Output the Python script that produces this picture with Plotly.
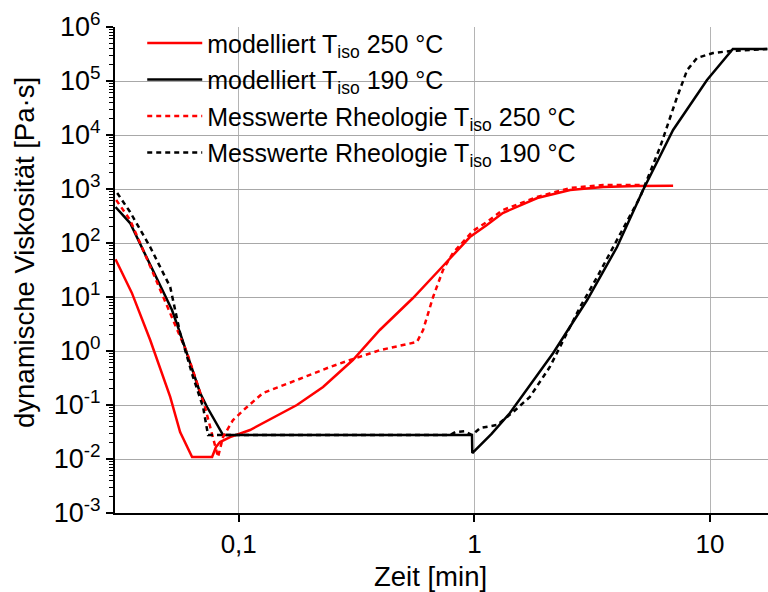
import plotly.graph_objects as go

# ---- data (time in min, dynamic viscosity in Pa·s) ----
t_mod_250 = [0.030, 0.0352, 0.0421, 0.0512, 0.0564, 0.0634, 0.0771, 0.0801, 0.0833, 0.0919,
             0.1117, 0.1268, 0.1766, 0.228, 0.305, 0.397, 0.549, 0.736, 0.957, 1.13, 1.32,
             1.85, 2.55, 3.52, 4.90, 6.97]
eta_mod_250 = [50.0, 11.9, 1.6, 0.141, 0.0316, 0.0109, 0.0109, 0.0167, 0.0206, 0.0255,
               0.0344, 0.0464, 0.100, 0.215, 0.681, 2.45, 9.58, 37.5, 129, 215, 359,
               681, 957, 1089, 1137, 1150]

t_mod_190 = [0.030, 0.0346, 0.0521, 0.0564, 0.0686, 0.0734, 0.0858, 0.977, 0.980, 1.18, 1.415,
             2.16, 3.01, 4.03, 5.20, 6.97, 9.71, 12.5, 17.5]
eta_mod_190 = [464, 234, 5.74, 2.15, 0.167, 0.0918, 0.0278, 0.0278, 0.0129, 0.029, 0.0711,
               0.918, 8.8, 84.3, 957, 12400, 104500, 392000, 392000]

t_meas_250 = [0.0302, 0.0346, 0.0433, 0.0526, 0.0604, 0.0719, 0.0771, 0.0817, 0.0858, 0.0946,
              0.1084, 0.1268, 0.1766, 0.244, 0.297, 0.398, 0.571, 0.606, 0.668, 0.736, 0.811,
              0.895, 0.986, 1.13, 1.32, 1.84, 2.55, 3.51, 5.20]
eta_meas_250 = [625, 267, 27.8, 3.75, 0.918, 0.0918, 0.0303, 0.0109, 0.0255, 0.0528,
                0.0918, 0.167, 0.290, 0.506, 0.681, 1.04, 1.47, 2.45, 10.0, 31.6, 65.3,
                104, 167, 245, 408, 711, 1045, 1186, 1186]

t_meas_190 = [0.0305, 0.0346, 0.0421, 0.0512, 0.0564, 0.0640, 0.0706, 0.0741, 0.0858, 0.789,
              0.830, 0.912, 0.977, 1.06, 1.25, 1.46, 1.72, 2.09, 2.81, 3.32, 4.03, 5.05,
              6.14, 7.25, 8.00, 8.81, 10.3, 12.2, 17.5]
eta_meas_190 = [843, 375, 84.3, 15.3, 2.15, 0.330, 0.0918, 0.0278, 0.0278, 0.0278,
                0.0316, 0.0326, 0.0278, 0.0375, 0.0427, 0.0742, 0.141, 0.506, 6.53, 23.5, 114, 711,
                5995, 50600, 160000, 267000, 330000, 359000, 392000]

series_names = [
    "modelliert T<sub>iso</sub> 250 °C",
    "modelliert T<sub>iso</sub> 190 °C",
    "Messwerte Rheologie T<sub>iso</sub> 250 °C",
    "Messwerte Rheologie T<sub>iso</sub> 190 °C",
]

y_tick_vals = [1e-3, 1e-2, 1e-1, 1e0, 1e1, 1e2, 1e3, 1e4, 1e5, 1e6]
y_tick_text = ["10<sup>-3</sup>", "10<sup>-2</sup>", "10<sup>-1</sup>", "10<sup>0</sup>",
               "10<sup>1</sup>", "10<sup>2</sup>", "10<sup>3</sup>", "10<sup>4</sup>",
               "10<sup>5</sup>", "10<sup>6</sup>"]
x_tick_vals = [0.1, 1, 10]
x_tick_text = ["0,1", "1", "10"]

x_title = "Zeit [min]"
y_title = "dynamische Viskosität [Pa·s]"

FONT = "Arial, Liberation Sans, sans-serif"
RED = "#ff0000"
BLACK = "#000000"
DASH = "5px,4px"

fig = go.Figure()
fig.add_trace(go.Scatter(x=t_mod_250, y=eta_mod_250, mode="lines", name=series_names[0],
                         legendgroup="a", line=dict(color=RED, width=2.5)))
fig.add_trace(go.Scatter(x=t_mod_190, y=eta_mod_190, mode="lines", name=series_names[1],
                         legendgroup="b", line=dict(color=BLACK, width=2.5)))
fig.add_trace(go.Scatter(x=t_meas_250, y=eta_meas_250, mode="lines", name=series_names[2],
                         legendgroup="c", line=dict(color=RED, width=2.5, dash=DASH)))
fig.add_trace(go.Scatter(x=t_meas_190, y=eta_meas_190, mode="lines", name=series_names[3],
                         legendgroup="d", line=dict(color=BLACK, width=2.5, dash=DASH)))

minor_vals = [m * 10 ** e for e in range(-3, 6) for m in range(2, 10)]

fig.update_layout(
    width=768, height=592,
    margin=dict(l=115, r=0, t=27, b=79),
    paper_bgcolor="white", plot_bgcolor="white",
    font=dict(family=FONT, size=26, color="black"),
    showlegend=True,
    legend=dict(x=0.0417, y=1.014, xanchor="left", yanchor="top",
                bgcolor="rgba(0,0,0,0)", font=dict(size=25, family=FONT),
                tracegroupgap=1, itemwidth=55),
    xaxis=dict(type="log", range=[-1.525, 1.246], tickmode="array",
               tickvals=x_tick_vals, ticktext=x_tick_text,
               showgrid=True, gridcolor="#b4b4b4", gridwidth=1,
               showline=True, linecolor="black", linewidth=2,
               ticks="outside", ticklen=7, tickwidth=2, tickcolor="black",
               zeroline=False, tickfont=dict(size=26)),
    yaxis=dict(type="log", range=[-3, 6], tickmode="array",
               tickvals=y_tick_vals, ticktext=y_tick_text,
               showgrid=True, gridcolor="#a8a8a8", gridwidth=1,
               showline=True, linecolor="black", linewidth=2,
               ticks="outside", ticklen=7, tickwidth=2, tickcolor="black",
               minor=dict(tickmode="array", tickvals=minor_vals, ticks="outside",
                          ticklen=4, tickwidth=1, tickcolor="black", showgrid=False),
               zeroline=False, tickfont=dict(size=27)),
    annotations=[
        dict(text=x_title, xref="paper", yref="paper", x=(430 - 115) / 653, y=(513 - 576) / 486,
             xanchor="center", yanchor="middle", showarrow=False, font=dict(size=27.5)),
        dict(text=y_title, xref="paper", yref="paper", x=(24 - 115) / 653, y=(513 - 253) / 486,
             xanchor="center", yanchor="middle", textangle=-90, showarrow=False,
             font=dict(size=27.5)),
    ],
)

fig.write_html("out.html")
